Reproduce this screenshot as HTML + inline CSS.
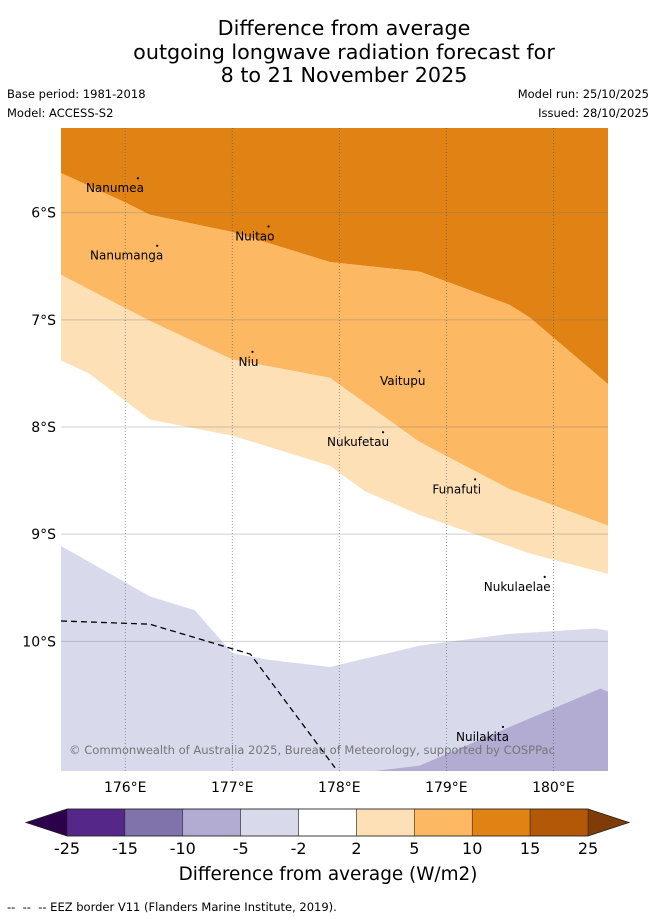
<!DOCTYPE html>
<html><head><meta charset="utf-8">
<style>
body{margin:0;background:#fff;font-family:"DejaVu Sans","Liberation Sans",sans-serif;}
#wrap{position:relative;width:655px;height:919px;overflow:hidden;}
.t{position:absolute;color:#000;white-space:nowrap;}
</style></head>
<body>
<div id="wrap">
<div class="t" style="left:0;width:688px;top:17px;text-align:center;font-size:20.7px;line-height:23.5px;">Difference from average<br>outgoing longwave radiation forecast for<br>8 to 21 November 2025</div>
<div class="t" style="left:7px;top:87px;font-size:11.5px;">Base period: 1981-2018</div>
<div class="t" style="left:7px;top:106px;font-size:11.5px;">Model: ACCESS-S2</div>
<div class="t" style="right:6px;top:87px;font-size:11.5px;">Model run: 25/10/2025</div>
<div class="t" style="right:6px;top:106px;font-size:11.5px;">Issued: 28/10/2025</div>
<svg id="map" width="655" height="919" style="position:absolute;left:0;top:0"></svg>
<div class="t" style="left:7px;top:900px;font-size:11.5px;">-- &nbsp;-- &nbsp;-- EEZ border V11 (Flanders Marine Institute, 2019).</div>
</div>
<script>
const lonTicks=[176,177,178,179,180];
const latTicks=[6,7,8,9,10];
const bandColors=["#e08214","#fdb863","#fee0b6","#d8daeb","#b2abd2"];
// boundary lines (lon, lat S) between bands
const b1Lon=[175.4,175.99,176.23,177,177.91,178.75,179.59,179.78,180.51];
const b1Lat=[5.63,5.9,6.02,6.18,6.46,6.55,6.86,6.98,7.6];
const b2Lon=[175.4,176.23,177,177.91,178.75,179.59,180.51];
const b2Lat=[6.58,7.01,7.37,7.54,8.14,8.58,8.92];
const b3Lon=[175.4,175.66,176.23,177,177.91,178.24,178.75,179.78,180.51];
const b3Lat=[7.38,7.5,7.93,8.08,8.36,8.6,8.82,9.18,9.37];
const b4Lon=[175.4,176.23,176.65,177,177.32,177.91,178.75,179.59,180.4,180.51];
const b4Lat=[9.11,9.58,9.71,10.11,10.17,10.24,10.04,9.93,9.88,9.9];
const b5Lon=[178.33,178.75,179.59,180.44,180.51];
const b5Lat=[11.21,11.16,10.8,10.44,10.47];
const eezLon=[175.4,176.23,177.17,177.96];
const eezLat=[9.81,9.84,10.12,11.18];
const islands=["Nanumea","Nuitao","Nanumanga","Niu","Vaitupu","Nukufetau","Funafuti","Nukulaelae","Nuilakita"];
const islLon=[176.1,177.32,176.28,177.17,178.73,178.39,179.25,179.9,179.51];
const islLat=[5.66,6.11,6.29,7.28,7.46,8.03,8.47,9.38,10.78];
const cbBounds=["-25","-15","-10","-5","-2","2","5","10","15","25"];
const cbColors=["#542788","#8073ac","#b2abd2","#d8daeb","#ffffff","#fee0b6","#fdb863","#e08214","#b35806"];

const X0=61,X1=608,Y0=128,Y1=771,LON0=175.4,LON1=180.51,LAT0=5.21,LAT1=11.21;
const xS=l=>X0+(l-LON0)/(LON1-LON0)*(X1-X0);
const yS=l=>Y0+(l-LAT0)/(LAT1-LAT0)*(Y1-Y0);
const svg=document.getElementById('map');const NS="http://www.w3.org/2000/svg";
function mk(t,a,p){const e=document.createElementNS(NS,t);for(const k in a)e.setAttribute(k,a[k]);(p||svg).appendChild(e);return e;}
const pts=(lo,la)=>lo.map((l,i)=>xS(l)+','+yS(la[i])).join(' ');
const rev=(lo,la)=>lo.map((l,i)=>xS(l)+','+yS(la[i])).reverse().join(' ');
let e=mk('rect',{x:X0,y:Y0,width:X1-X0,height:Y1-Y0,fill:'#fff'});


const bands=[
 `${X0},${Y0} ${X1},${Y0} `+rev(b1Lon,b1Lat),
 pts(b1Lon,b1Lat)+' '+rev(b2Lon,b2Lat),
 pts(b2Lon,b2Lat)+' '+rev(b3Lon,b3Lat),
 pts(b4Lon,b4Lat)+` ${X1},${Y1} ${X0},${Y1}`,
 pts(b5Lon,b5Lat)+` ${X1},${Y1}`
];
bands.forEach((p,i)=>{const el=mk('polygon',{points:p,fill:bandColors[i]});

});
lonTicks.forEach(l=>{const x=xS(l);
const g=mk('line',{x1:x,x2:x,y1:Y0,y2:Y1,stroke:'#555','stroke-width':0.8,'stroke-dasharray':'1,2',opacity:0.7});


const t=mk('text',{x:x,y:Y1+21,'font-size':14,'text-anchor':'middle','font-family':'DejaVu Sans,sans-serif'});t.textContent=l+'°E';

});
latTicks.forEach(l=>{const y=yS(l);
const g=mk('line',{x1:X0,x2:X1,y1:y,y2:y,stroke:'#777','stroke-width':1,opacity:0.35});


const t=mk('text',{x:X0-5,y:y+5,'font-size':14,'text-anchor':'end','font-family':'DejaVu Sans,sans-serif'});t.textContent=l+'°S';

});
e=mk('polyline',{points:pts(eezLon,eezLat),fill:'none',stroke:'#000','stroke-width':1.3,'stroke-dasharray':'6,4'});


islands.forEach((n,i)=>{const x=xS(islLon[i]),y=yS(islLat[i]);
const d=mk('circle',{cx:x+2,cy:y+2,r:1.1,fill:'#000'});


const t=mk('text',{x:x+8,y:y+16,'font-size':12,'text-anchor':'end','font-family':'DejaVu Sans,sans-serif'});t.textContent=n;

});
e=mk('text',{x:69,y:754,'font-size':11.6,fill:'#777','font-family':'DejaVu Sans,sans-serif',textLength:486});e.textContent='© Commonwealth of Australia 2025, Bureau of Meteorology, supported by COSPPac';


const CX0=67,CX1=588,CY0=809,CY1=836,cw=(CX1-CX0)/cbColors.length;
e=mk('polygon',{points:`26,822.5 ${CX0},${CY0} ${CX0},${CY1}`,fill:'#2d004b'});


e=mk('polygon',{points:`629,822.5 ${CX1},${CY0} ${CX1},${CY1}`,fill:'#7f3b08'});


cbColors.forEach((c,i)=>{const r=mk('rect',{x:CX0+i*cw,y:CY0,width:cw,height:CY1-CY0,fill:c,stroke:'#222','stroke-width':0.5});

});
e=mk('polygon',{points:`26,822.5 ${CX0},${CY0} ${CX1},${CY0} 629,822.5 ${CX1},${CY1} ${CX0},${CY1}`,fill:'none',stroke:'#222','stroke-width':0.8});


cbBounds.forEach((b,i)=>{const t=mk('text',{x:CX0+i*cw,y:854,'font-size':16,'text-anchor':'middle','font-family':'DejaVu Sans,sans-serif'});t.textContent=b;

});
e=mk('text',{x:328,y:880,'font-size':18.4,'text-anchor':'middle','font-family':'DejaVu Sans,sans-serif'});e.textContent='Difference from average (W/m2)';


</script>
</body></html>
